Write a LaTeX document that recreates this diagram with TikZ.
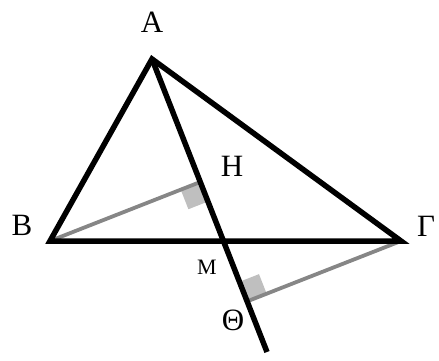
\documentclass[tikz,border=0pt]{standalone}
\usepackage{fontspec}
\setmainfont{Liberation Serif}
\usetikzlibrary{calc,intersections}
\begin{document}
\begin{tikzpicture}[x=1pt,y=-1pt,
  blk/.style={line width=5.5pt,black},
  gry/.style={line width=3.8pt,color=gray!95},
  sq/.style={fill=black!25,draw=none},
  lbl/.style={font=\fontsize{31}{31}\selectfont,inner sep=0pt},
  slbl/.style={font=\fontsize{22}{22}\selectfont,inner sep=0pt}]
\useasboundingbox (0,0) rectangle (439,361);
\coordinate (A) at (152,59);
\coordinate (B) at (50,241);
\coordinate (G) at (401,241);
\coordinate (E) at (267,352);
\path[name path=ae] (A) -- (E);
\path[name path=bg] (B) -- (G);
\path[name intersections={of=ae and bg,by=M}];
\coordinate (H) at ($(A)!(B)!(E)$);
\coordinate (T) at ($(A)!(G)!(E)$);
\coordinate (H1) at ($(H)!21pt!(M)$);
\coordinate (H2) at ($(H)!21pt!(B)$);
\coordinate (H3) at ($(H1)+(H2)-(H)$);
\coordinate (T1) at ($(T)!21pt!(A)$);
\coordinate (T2) at ($(T)!21pt!(G)$);
\coordinate (T3) at ($(T1)+(T2)-(T)$);
% right angle marks
\fill[sq] (H) -- (H1) -- (H3) -- (H2) -- cycle;
\fill[sq] (T) -- (T1) -- (T3) -- (T2) -- cycle;
% gray perpendiculars
\draw[gry] (B) -- (H);
\draw[gry] (G) -- (T);
% black lines
\draw[blk,line join=miter] (B) -- (A) -- (G) -- cycle;
\draw[blk] (A) -- (E);
% labels
\node[lbl] (lA) at (152,22) {A};
\node[lbl] (lH) at (232,166) {H};
\node[lbl] (lB) at (22,225) {B};
\node[lbl] (lG) at (426,226) {Γ};
\node[slbl] (lM) at (207,267) {M};
\node[lbl] (lT) at (233,320) {Θ};
\end{tikzpicture}
\end{document}
